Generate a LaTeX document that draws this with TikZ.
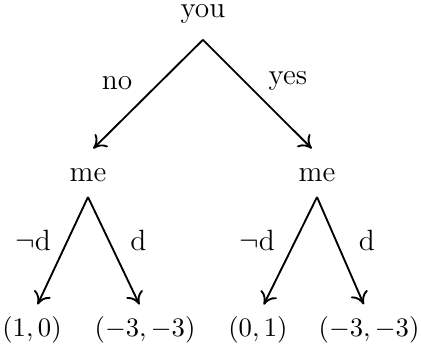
\documentclass[tikz,border=0pt]{standalone}
\usepackage{amsmath,amssymb}
\usepackage{tikz}
\usetikzlibrary{arrows.meta,positioning}
\tikzset{
  word/.style={font=\fontsize{11}{13}\selectfont},
  player/.style={word, inner sep=0pt, anchor=base},
  payoff/.style={inner sep=0pt, anchor=base},
  act/.style={word, inner sep=0pt, anchor=base},
  move/.style={-{To[length=1.6mm,width=2.4mm]}, line width=0.7pt},
}
\begin{document}
\begin{tikzpicture}[x=1pt,y=1pt]
\useasboundingbox (0,0) rectangle (157.9,130.1);
\node[player, outer ysep=6.1pt] (you) at (76.1,123.5) {you};
\node[player, outer ysep=5.6pt] (meL) at (33,61.9) {me};
\node[player, outer ysep=5.6pt] (meR) at (118.9,61.9) {me};
\node[payoff] (o1) at (12,3.75) {$(1,0)$};
\node[payoff] (o2) at (54.4,3.75) {$(-3,-3)$};
\node[payoff] (o3) at (96.75,3.75) {$(0,1)$};
\node[payoff] (o4) at (138.4,3.75) {$(-3,-3)$};
\node[act] (no) at (43.9,96.4) {no};
\node[act] (yes) at (108,98.25) {yes};
\node[act] (nd1) at (12.4,36.2) {$\neg$d};
\node[act] (d1) at (51.9,36.2) {d};
\node[act] (nd2) at (96.4,36.2) {$\neg$d};
\node[act] (d2) at (137.6,36.2) {d};
\draw[move, shorten >=2.8pt] (you.south) -- (meL.north);
\draw[move, shorten >=2.8pt] (you.south) -- (meR.north);
\draw[move, shorten >=4.9pt] (meL.south) -- (o1.north);
\draw[move, shorten >=4.9pt] (meL.south) -- (o2.north);
\draw[move, shorten >=4.9pt] (meR.south) -- (o3.north);
\draw[move, shorten >=4.9pt] (meR.south) -- (o4.north);
\end{tikzpicture}
\end{document}
